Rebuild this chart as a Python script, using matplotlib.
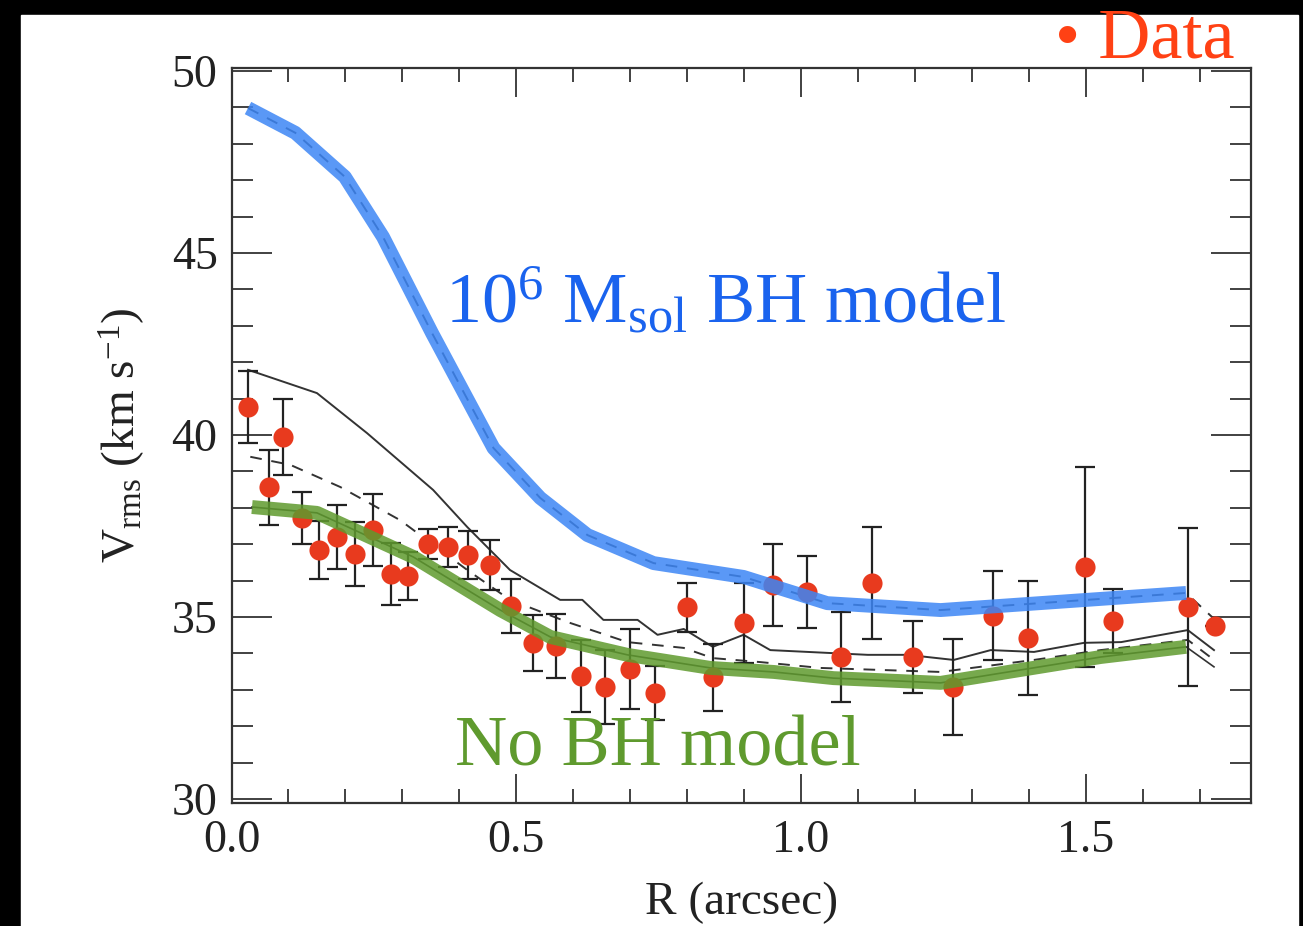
import matplotlib
matplotlib.use("Agg")
import matplotlib.pyplot as plt
from matplotlib.patches import Rectangle
from matplotlib.ticker import MultipleLocator

plt.rcParams["font.family"] = ["Liberation Serif", "DejaVu Serif"]
plt.rcParams["mathtext.fontset"] = "custom"
plt.rcParams["mathtext.rm"] = "Liberation Serif"
plt.rcParams["mathtext.it"] = "Liberation Serif:italic"

# Data points (R in arcsec, Vrms in km/s, error)
r_data = [0.029, 0.066, 0.091, 0.124, 0.154, 0.185, 0.217, 0.249, 0.280, 0.310,
          0.345, 0.381, 0.416, 0.453, 0.491, 0.530, 0.569, 0.614, 0.656, 0.700,
          0.744, 0.800, 0.846, 0.899, 0.950, 1.011, 1.071, 1.124, 1.196, 1.266,
          1.337, 1.398, 1.498, 1.547, 1.679, 1.727]
v_data = [40.77, 38.57, 39.95, 37.72, 36.84, 37.20, 36.73, 37.39, 36.18, 36.13,
          37.01, 36.92, 36.70, 36.43, 35.30, 34.29, 34.20, 33.38, 33.08, 33.57,
          32.91, 35.27, 33.35, 34.84, 35.88, 35.69, 33.90, 35.93, 33.90, 33.08,
          35.03, 34.42, 36.37, 34.89, 35.27, 34.75]
v_err = [1.00, 1.03, 1.04, 0.71, 0.80, 0.88, 0.88, 0.99, 0.84, 0.66,
         0.41, 0.55, 0.66, 0.69, 0.73, 0.77, 0.87, 0.99, 1.02, 1.11,
         0.74, 0.67, 0.92, 1.10, 1.13, 0.98, 1.24, 1.54, 1.00, 1.32,
         1.22, 1.57, 2.75, 0.89, 2.17, 0.0]

# 10^6 Msol BH model (thick blue)
r_bh = [0.029, 0.112, 0.199, 0.266, 0.352, 0.460, 0.542, 0.625, 0.741, 0.899,
        1.046, 1.245, 1.676]
v_bh = [48.98, 48.30, 47.09, 45.44, 42.80, 39.64, 38.27, 37.25, 36.48, 36.10,
        35.38, 35.19, 35.66]
# dashed black model underneath the blue band
r_bh_dash = [0.029, 0.112, 0.199, 0.266, 0.352, 0.460, 0.542, 0.625, 0.741, 0.899,
             1.046, 1.245, 1.676, 1.725]
v_bh_dash = [48.98, 48.30, 47.09, 45.44, 42.80, 39.64, 38.27, 37.25, 36.48, 36.10,
             35.38, 35.19, 35.66, 34.95]

# No BH model (thick green)
r_nobh = [0.036, 0.150, 0.319, 0.472, 0.560, 0.695, 0.841, 0.952, 1.057, 1.245,
          1.526, 1.676]
v_nobh = [38.02, 37.86, 36.65, 35.19, 34.45, 33.96, 33.60, 33.49, 33.32, 33.19,
          33.90, 34.18]
# thin black model underneath the green band
r_nobh_thin = [0.036, 0.150, 0.319, 0.472, 0.560, 0.695, 0.841, 0.952, 1.057, 1.245,
               1.526, 1.676, 1.725]
v_nobh_thin = [38.02, 37.86, 36.65, 35.19, 34.45, 33.96, 33.60, 33.49, 33.32, 33.19,
               33.90, 34.18, 33.63]

# thin solid black model
r_solid = [0.029, 0.150, 0.238, 0.354, 0.414, 0.489, 0.577, 0.616, 0.653, 0.713,
           0.748, 0.794, 0.845, 0.899, 0.946, 1.117, 1.187, 1.268, 1.333, 1.409,
           1.497, 1.562, 1.679, 1.725]
v_solid = [41.79, 41.15, 40.05, 38.49, 37.47, 36.29, 35.47, 35.47, 34.92, 34.92,
           34.51, 34.67, 34.18, 34.51, 34.09, 33.96, 33.96, 33.82, 34.09, 34.04,
           34.29, 34.31, 34.64, 34.09]

# thin dashed black model
r_dash = [0.033, 0.103, 0.191, 0.296, 0.414, 0.489, 0.590, 0.695, 0.794, 0.845,
          0.929, 1.034, 1.245, 1.409, 1.526, 1.679, 1.725]
v_dash = [39.40, 39.18, 38.57, 37.66, 36.29, 35.47, 34.86, 34.31, 34.15, 33.87,
          33.76, 33.60, 33.49, 33.82, 34.09, 34.37, 33.82]

W, H = 1303, 926
fig = plt.figure(figsize=(W / 100, H / 100), dpi=100, facecolor="black")
# white page area inside the black frame
fig.patches.append(Rectangle((21 / W, 0), (1298 - 21) / W, 1 - 15 / H,
                             transform=fig.transFigure, color="white", zorder=-1))

ax = fig.add_axes([231.5 / W, 1 - 803 / H, (1251 - 231.5) / W, (803 - 68) / H])
ax.set_facecolor("white")

ax.plot(r_solid, v_solid, color="#333333", lw=1.4, zorder=2)
ax.plot(r_dash, v_dash, color="#333333", lw=1.4, ls=(0, (6, 5)), zorder=2)
ax.plot(r_nobh_thin, v_nobh_thin, color="#333333", lw=1.2, zorder=2)
ax.plot(r_bh_dash, v_bh_dash, color="#333333", lw=1.4, ls=(0, (6, 5)), zorder=2)

# error bars with caps, then the red points on top
ax.errorbar(r_data, v_data, yerr=v_err, fmt="none", ecolor="#222222",
            elinewidth=1.6, capsize=7, capthick=1.6, zorder=3)
ax.plot(r_data, v_data, "o", color="#e83a1e", ms=14.5, mew=0, zorder=3.5)

ax.plot(r_bh, v_bh, color="#3d86f5", lw=10, alpha=0.85,
        solid_capstyle="butt", zorder=4)
ax.plot(r_nobh, v_nobh, color="#5f9a2e", lw=10, alpha=0.85,
        solid_capstyle="butt", zorder=4)

ax.set_xlim(0, 1.79)
ax.set_ylim(29.89, 50.08)
ax.xaxis.set_major_locator(MultipleLocator(0.5))
ax.xaxis.set_minor_locator(MultipleLocator(0.1))
ax.yaxis.set_major_locator(MultipleLocator(5))
ax.yaxis.set_minor_locator(MultipleLocator(1))
ax.xaxis.set_major_formatter(matplotlib.ticker.FormatStrFormatter("%.1f"))

ax.tick_params(which="both", direction="in", top=True, right=True,
               color="#333333", width=1.3, labelsize=33, labelcolor="#222222")
ax.tick_params(axis="x", which="major", length=21, pad=12)
ax.tick_params(axis="x", which="minor", length=10)
ax.tick_params(axis="y", which="major", length=29, pad=10)
ax.tick_params(axis="y", which="minor", length=15)
for sp in ax.spines.values():
    sp.set_color("#333333")
    sp.set_linewidth(1.6)

ax.set_xlabel("R (arcsec)", fontsize=34, color="#222222", labelpad=14)
ax.set_ylabel(r"V$_{\rm rms}$ (km s$^{-1}$)", fontsize=34, color="#222222",
              labelpad=18)

fig.text(1055 / W, 1 - 57 / H, "\u2022 Data", color="#ff4114", fontsize=52,
         va="baseline", ha="left", zorder=5)
fig.text(445 / W, 1 - 323 / H, r"10$^{6}$ M$_{\rm sol}$ BH model",
         color="#1a63ee", fontsize=52, va="baseline", ha="left", zorder=5)
fig.text(455 / W, 1 - 765 / H, "No BH model", color="#5f9a2e", fontsize=52,
         va="baseline", ha="left", zorder=5)

fig.savefig("out.png", dpi=100, facecolor="black")
